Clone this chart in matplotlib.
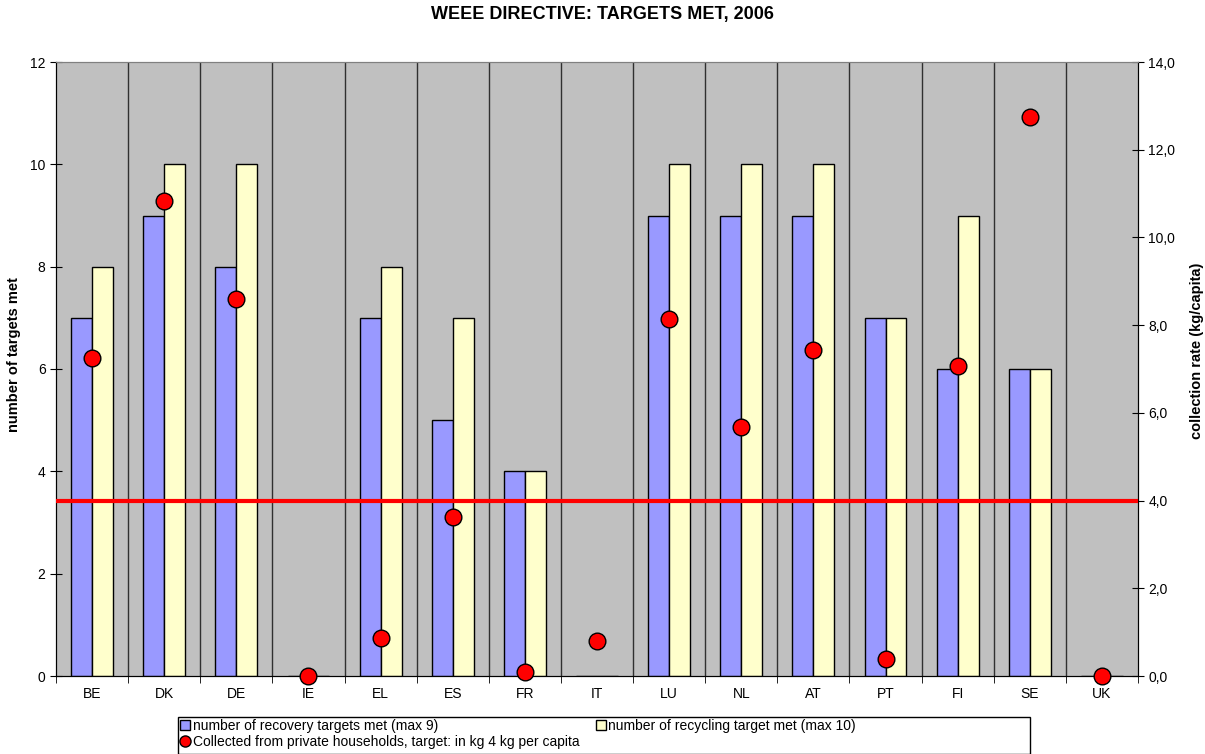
import matplotlib.pyplot as plt
from matplotlib.patches import Patch, Rectangle
from matplotlib.lines import Line2D
import numpy as np

plt.rcParams['font.family'] = ['Liberation Sans', 'DejaVu Sans']

# datos
paises = ['BE', 'DK', 'DE', 'IE', 'EL', 'ES', 'FR', 'IT', 'LU', 'NL', 'AT', 'PT', 'FI', 'SE', 'UK']
recuperacion = [7, 9, 8, 0, 7, 5, 4, 0, 9, 9, 9, 7, 6, 6, 0]
reciclaje = [8, 10, 10, 0, 8, 7, 4, 0, 10, 10, 10, 7, 9, 6, 0]
recogida = [7.25, 10.83, 8.6, 0.0, 0.87, 3.63, 0.09, 0.8, 8.14, 5.68, 7.43, 0.39, 7.07, 12.75, 0.0]
objetivo = 4.0

W, H = 1205, 754
fig = plt.figure(figsize=(W / 100, H / 100), dpi=100)
ax = fig.add_axes([56 / W, 1 - 676 / H, (1138 - 56) / W, (676 - 62) / H])
ax.set_facecolor('#C0C0C0')

index = np.arange(len(paises))
bar_width = 0.29

ax.bar(index - bar_width / 2, recuperacion, bar_width, color='#9999FF',
       edgecolor='black', linewidth=1, zorder=3)
ax.bar(index + bar_width / 2, reciclaje, bar_width, color='#FFFFCC',
       edgecolor='black', linewidth=1, zorder=3)

# separadores entre paises
for b in np.arange(0.5, len(paises) - 1, 1):
    ax.axvline(b, color='#303030', linewidth=1, zorder=1)

ax.set_xlim(-0.5, len(paises) - 0.5)
ax.set_ylim(0, 12)
ax.set_yticks(range(0, 13, 2))
ax.set_xticks(index)
ax.set_xticklabels(paises, fontsize=10)
ax.tick_params(axis='x', length=0, pad=8)
ax.set_xticks(np.arange(-0.5, len(paises), 1), minor=True)
ax.tick_params(axis='x', which='minor', length=5, direction='out')
ax.tick_params(axis='y', labelsize=10, direction='inout', length=8)
ax.set_ylabel('number of targets met', fontsize=10.5, fontweight='bold')
ax.yaxis.set_label_coords(-0.032, 0.523)
ax.spines['top'].set_color('#808080')

ax2 = ax.twinx()
ax2.set_ylim(0, 14)
ax2.set_yticks(range(0, 15, 2))
ax2.set_yticklabels([f'{v},0' for v in range(0, 15, 2)])
ax2.tick_params(axis='y', labelsize=10, direction='inout', length=8)
ax2.set_ylabel('collection rate (kg/capita)', fontsize=10.5, fontweight='bold')
ax2.yaxis.set_label_coords(1.048, 0.529)
ax2.spines['top'].set_color('#808080')
ax2.axhline(objetivo, color='#FF0000', linewidth=3, zorder=4)
ax2.plot(index, recogida, 'o', color='#FF0000', markeredgecolor='black',
         markersize=12, markeredgewidth=1, zorder=5, clip_on=False)

fig.text(0.5, 1 - 14 / H, 'WEEE DIRECTIVE: TARGETS MET, 2006', fontsize=13,
         fontweight='bold', ha='center', va='center')

# leyenda
fig.patches.append(Rectangle((178 / W, 0), (1030 - 178) / W, (754 - 717) / H,
                             transform=fig.transFigure, facecolor='white',
                             edgecolor='black', linewidth=1))
handles = [
    Patch(facecolor='#9999FF', edgecolor='black', label='number of recovery targets met (max 9)'),
    Line2D([], [], marker='o', linestyle='none', color='#FF0000', markeredgecolor='black',
           markersize=8, label='Collected from private households, target: in kg 4 kg per capita'),
    Patch(facecolor='#FFFFCC', edgecolor='black', label='number of recycling target met (max 10)'),
]
leg = fig.legend(handles=handles, ncol=2, loc='upper left', bbox_to_anchor=(178 / W, 1 - 717 / H),
                 fontsize=10, frameon=False, handlelength=0.7, handleheight=0.7,
                 handletextpad=0.2, borderpad=0.15, labelspacing=0.15,
                 columnspacing=1.2, borderaxespad=0)

plt.savefig('out.png')
